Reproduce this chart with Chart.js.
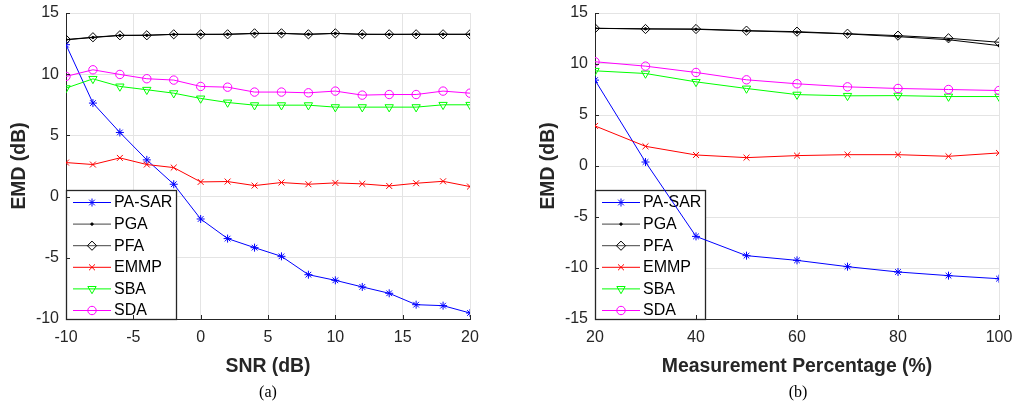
<!DOCTYPE html>
<html>
<head>
<meta charset="utf-8">
<script src="https://cdn.jsdelivr.net/npm/chart.js@4/dist/chart.umd.min.js"></script>
<style>
  html, body { margin: 0; padding: 0; background: #fff; }
  #wrap { position: relative; width: 1014px; height: 404px; overflow: hidden; }
  canvas { position: absolute; top: 0; }
  .cap { position: absolute; font-family: "Liberation Serif", "Times New Roman", serif; font-size: 16px; color: #000; transform: translate(-50%, -50%); }
</style>
</head>
<body>
<div id="wrap">
  <canvas id="ca" width="507" height="404" style="left:0px"></canvas>
  <canvas id="cb" width="507" height="404" style="left:507px"></canvas>
  <div class="cap" style="left:268px; top:392px;">(a)</div>
  <div class="cap" style="left:798px; top:392px;">(b)</div>
</div>
<script>
// ---------- data: panel (a) ----------
const snr = [-10, -8, -6, -4, -2, 0, 2, 4, 6, 8, 10, 12, 14, 16, 18, 20];
const paSarA = [12.41, 7.64, 5.24, 3.0, 1.01, -1.83, -3.43, -4.17, -4.88, -6.38, -6.84, -7.38, -7.9, -8.83, -8.91, -9.51];
const pgaA = [12.81, 13.0, 13.16, 13.18, 13.25, 13.25, 13.26, 13.32, 13.33, 13.26, 13.33, 13.26, 13.25, 13.26, 13.26, 13.26];
const pfaA = [12.83, 13.02, 13.18, 13.18, 13.26, 13.26, 13.26, 13.34, 13.34, 13.26, 13.34, 13.26, 13.26, 13.26, 13.26, 13.26];
const emmpA = [2.78, 2.62, 3.16, 2.62, 2.37, 1.2, 1.23, 0.9, 1.15, 1.01, 1.12, 1.04, 0.87, 1.09, 1.25, 0.82];
const sbaA = [8.86, 9.62, 9.0, 8.73, 8.45, 8.02, 7.69, 7.47, 7.47, 7.47, 7.31, 7.31, 7.31, 7.31, 7.5, 7.5];
const sdaA = [9.82, 10.36, 9.98, 9.63, 9.52, 9.0, 8.94, 8.54, 8.54, 8.48, 8.62, 8.29, 8.34, 8.34, 8.62, 8.45];

// ---------- data: panel (b) ----------
const pct = [20, 30, 40, 50, 60, 70, 80, 90, 100];
const paSarB = [8.42, 0.39, -6.9, -8.79, -9.25, -9.87, -10.39, -10.75, -11.05];
const pgaB = [13.5, 13.45, 13.4, 13.25, 13.12, 12.95, 12.68, 12.38, 11.8];
const pfaB = [13.5, 13.43, 13.43, 13.27, 13.17, 12.97, 12.78, 12.52, 12.13];
const emmpB = [3.93, 1.93, 1.08, 0.82, 1.02, 1.11, 1.11, 0.95, 1.28];
const sbaB = [9.33, 9.07, 8.25, 7.6, 7.0, 6.88, 6.9, 6.81, 6.81];
const sdaB = [10.22, 9.79, 9.17, 8.45, 8.06, 7.76, 7.6, 7.5, 7.4];

// ---------- tick labels / titles ----------
const xTitleA = 'SNR (dB)';
const xTitleB = 'Measurement Percentage (%)';
const yTitle = 'EMD (dB)';
const seriesNames = ['PA-SAR', 'PGA', 'PFA', 'EMMP', 'SBA', 'SDA'];

const AX = '#262626';
const GRID = '#e4e4e4';
const SANS = '"Liberation Sans", Arial, Helvetica, sans-serif';

function pts(xs, ys) { return xs.map((x, i) => ({ x: x, y: ys[i] })); }

const styles = [
  { color: '#0000ff', pointStyle: 'star', radius: 4, rotation: 0, fill: 'transparent' },
  { color: '#000000', pointStyle: 'circle', radius: 1.2, rotation: 0, fill: '#000000' },
  { color: '#000000', pointStyle: 'rectRot', radius: 4.6, rotation: 0, fill: 'transparent' },
  { color: '#ff0000', pointStyle: 'crossRot', radius: 4.2, rotation: 0, fill: 'transparent' },
  { color: '#00ff00', pointStyle: 'triangle', radius: 4.8, rotation: 180, fill: 'transparent' },
  { color: '#ff00ff', pointStyle: 'circle', radius: 4.2, rotation: 0, fill: 'transparent' }
];

function makeDatasets(xs, series) {
  return series.map((ys, i) => ({
    label: seriesNames[i],
    data: pts(xs, ys),
    borderColor: styles[i].color,
    backgroundColor: styles[i].fill,
    borderWidth: 1,
    pointStyle: styles[i].pointStyle,
    pointRadius: styles[i].radius,
    pointRotation: styles[i].rotation,
    pointBorderColor: styles[i].color,
    pointBackgroundColor: styles[i].fill,
    pointBorderWidth: 1,
    tension: 0,
    fill: false,
    order: 6 - i
  }));
}

function drawMarker(ctx, st, x, y) {
  ctx.save();
  ctx.strokeStyle = st.color;
  ctx.fillStyle = st.fill;
  ctx.lineWidth = 1;
  if (Chart.helpers && Chart.helpers.drawPoint) {
    Chart.helpers.drawPoint(ctx, { pointStyle: st.pointStyle, rotation: st.rotation, radius: st.radius, borderWidth: 1 }, x, y);
  }
  ctx.restore();
}

const legendPlugin = {
  id: 'innerLegend',
  beforeDatasetsDraw(chart) {
    const ctx = chart.ctx;
    const a = chart.chartArea;
    const left = a.left, top = 190, right = a.left + 111, bottom = a.bottom + 1;
    ctx.save();
    ctx.fillStyle = '#ffffff';
    ctx.fillRect(left, top, right - left, bottom - top);
    ctx.strokeStyle = AX;
    ctx.lineWidth = 1.3;
    ctx.strokeRect(left + 0.5, top + 0.5, right - left - 1, bottom - top - 1);
    ctx.font = '16px ' + SANS;
    ctx.textBaseline = 'middle';
    ctx.textAlign = 'left';
    for (let i = 0; i < seriesNames.length; i++) {
      const y = 202.5 + i * 21.6;
      const st = styles[i];
      ctx.strokeStyle = (i === 1 || i === 2) ? '#444444' : st.color;
      ctx.lineWidth = 1;
      ctx.beginPath();
      ctx.moveTo(left + 7, y);
      ctx.lineTo(left + 45, y);
      ctx.stroke();
      drawMarker(ctx, st, left + 26, y);
      ctx.fillStyle = '#000000';
      ctx.fillText(seriesNames[i], left + 48, y + 0.5);
    }
    ctx.restore();
  },
  afterDatasetsDraw(chart) {
    const ctx = chart.ctx;
    const a = chart.chartArea;
    const xs = chart.scales.x, ys = chart.scales.y;
    ctx.save();
    ctx.strokeStyle = AX;
    ctx.lineWidth = 1;
    ctx.beginPath();
    xs.ticks.forEach(t => {
      const px = Math.round(xs.getPixelForValue(t.value)) + 0.5;
      ctx.moveTo(px, a.bottom);
      ctx.lineTo(px, a.bottom - 4);
    });
    ys.ticks.forEach(t => {
      const py = Math.round(ys.getPixelForValue(t.value)) + 0.5;
      ctx.moveTo(a.left, py);
      ctx.lineTo(a.left + 4, py);
    });
    ctx.stroke();
    ctx.restore();
  }
};

function noPad(s) { s.paddingLeft = 0; s.paddingRight = 0; s.paddingTop = 0; s.paddingBottom = 0; }

function makeChart(id, xs, series, xmin, xmax, xstep, ymin, ymax, xTitle, padLeft, padRight) {
  return new Chart(document.getElementById(id), {
    type: 'line',
    data: { datasets: makeDatasets(xs, series) },
    options: {
      responsive: false,
      animation: false,
      devicePixelRatio: 1,
      layout: { padding: { left: padLeft, right: padRight, top: 13, bottom: 0 } },
      plugins: { legend: { display: false }, tooltip: { enabled: false } },
      scales: {
        x: {
          type: 'linear', min: xmin, max: xmax,
          afterFit(s) { s.height = 85; noPad(s); },
          ticks: { stepSize: xstep, color: AX, font: { family: SANS, size: 16 }, padding: 9, maxRotation: 0 },
          grid: { color: GRID, lineWidth: 1, drawTicks: false },
          border: { color: AX, width: 1 },
          title: { display: true, text: xTitle, color: AX, font: { family: SANS, size: 19.4, weight: 'bold' }, padding: { top: 0, bottom: 26 } }
        },
        y: {
          type: 'linear', min: ymin, max: ymax,
          afterFit(s) { s.width = 66; noPad(s); },
          ticks: { stepSize: 5, color: AX, font: { family: SANS, size: 16 }, padding: 7 },
          grid: { color: GRID, lineWidth: 1, drawTicks: false },
          border: { color: AX, width: 1 },
          title: { display: true, text: yTitle, color: AX, font: { family: SANS, size: 19.4, weight: 'bold' }, padding: { top: 8, bottom: 0 } }
        }
      }
    },
    plugins: [legendPlugin]
  });
}

makeChart('ca', snr, [paSarA, pgaA, pfaA, emmpA, sbaA, sdaA], -10, 20, 5, -10, 15, xTitleA, 0, 37);
makeChart('cb', pct, [paSarB, pgaB, pfaB, emmpB, sbaB, sdaB], 20, 100, 20, -15, 15, xTitleB, 22, 15);
</script>
</body>
</html>
